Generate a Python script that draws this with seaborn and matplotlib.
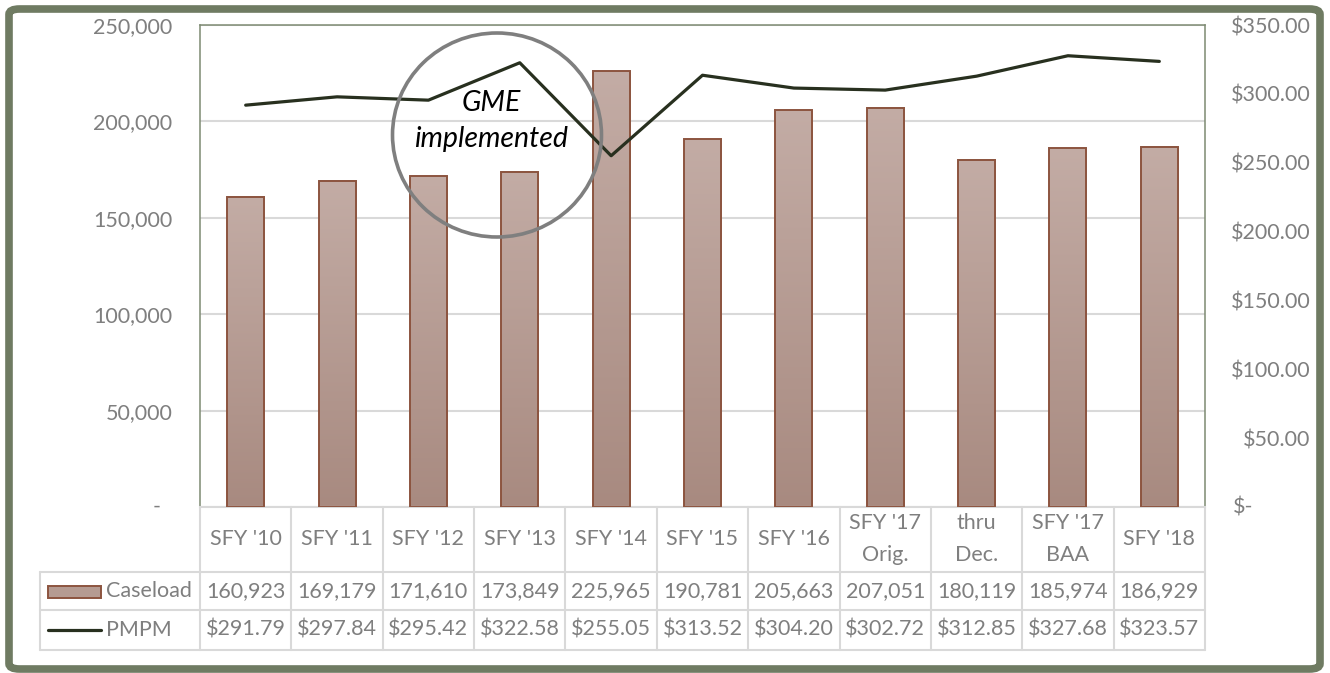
import numpy as np
import pandas as pd
import matplotlib
matplotlib.use("Agg")
import matplotlib.pyplot as plt
import seaborn as sns
from matplotlib.patches import Ellipse, FancyBboxPatch, Rectangle
from matplotlib.lines import Line2D
from matplotlib.colors import LinearSegmentedColormap
import matplotlib.transforms as mtransforms

# ---- data ----
periods = ["SFY '10", "SFY '11", "SFY '12", "SFY '13", "SFY '14", "SFY '15",
           "SFY '16", "SFY '17\nOrig.", "thru\nDec.", "SFY '17\nBAA", "SFY '18"]
caseload = [160923, 169179, 171610, 173849, 225965, 190781,
            205663, 207051, 180119, 185974, 186929]
pmpm = [291.79, 297.84, 295.42, 322.58, 255.05, 313.52,
        304.20, 302.72, 312.85, 327.68, 323.57]
caseload_ticks = [0, 50000, 100000, 150000, 200000, 250000]
pmpm_ticks = [0, 50, 100, 150, 200, 250, 300, 350]

# ---- style ----
sns.set_theme(style="white")
plt.rcParams["font.family"] = ["Lato", "DejaVu Sans"]
FS = 15.5
GREY_TXT = "#7f7f7f"
GRID = "#d9d9d9"
FRAME = "#6f7b62"
BAR_EDGE = "#8c543f"
BAR_TOP = "#c3aca5"
BAR_BOT = "#a88a80"
LINE = "#28301f"

W, H = 1330, 673
fig = plt.figure(figsize=(W / 100, H / 100), dpi=100)
fig.patch.set_facecolor("white")


def fx(px):
    return px / W


def fy(py):
    return 1 - py / H


L, R, T, B = 200, 1205, 25, 507
ax = fig.add_axes([fx(L), fy(B), fx(R) - fx(L), fy(T) - fy(B)])

df = pd.DataFrame({"pos": np.arange(len(periods)), "caseload": caseload, "pmpm": pmpm})

sns.barplot(data=df, x="pos", y="caseload", ax=ax, width=0.405,
            color=BAR_TOP, edgecolor=BAR_EDGE, linewidth=1.4, saturation=1, zorder=3)

# vertical gradient fill inside each bar
grad_cmap = LinearSegmentedColormap.from_list("bar", [BAR_TOP, BAR_BOT])
grad = np.linspace(0, 1, 256)[:, None]
for p in ax.patches:
    x0, w, h = p.get_x(), p.get_width(), p.get_height()
    ax.imshow(grad, extent=[x0, x0 + w, 0, h], aspect="auto", cmap=grad_cmap,
              zorder=2.5, interpolation="bilinear")
    p.set_facecolor("none")

ax.set_xlim(-0.5, len(periods) - 0.5)
ax.set_ylim(0, 250000)
ax.set_xlabel("")
ax.set_ylabel("")
ax.set_xticks([])
ax.set_yticks(caseload_ticks, labels=[""] + [f"{v:,}" for v in caseload_ticks[1:]])
ax.tick_params(axis="y", length=0, pad=20, labelsize=FS, labelcolor=GREY_TXT)
ax.yaxis.grid(True, color=GRID, linewidth=1.5, zorder=0)
ax.set_axisbelow(True)
for side in ["left", "top", "right"]:
    ax.spines[side].set_color("#7d8a72")
    ax.spines[side].set_linewidth(1.1)
ax.spines["bottom"].set_color(GRID)
ax.spines["bottom"].set_linewidth(1.5)

ax.annotate("-", xy=(0, 0), xycoords=mtransforms.blended_transform_factory(ax.transAxes, ax.transData),
            xytext=(-43, 0), textcoords="offset pixels", ha="center", va="center",
            fontsize=FS, color=GREY_TXT, annotation_clip=False)

# ---- secondary axis: PMPM line ----
ax2 = ax.twinx()
sns.lineplot(data=df, x="pos", y="pmpm", ax=ax2, color=LINE, linewidth=2.3, zorder=4)
ax2.set_xlim(-0.5, len(periods) - 0.5)
ax2.set_ylim(0, 350)
ax2.set_xlabel("")
ax2.set_ylabel("")
ax2.set_yticks(pmpm_ticks, labels=[""] + [f"${v:,.2f}" for v in pmpm_ticks[1:]])
ax2.tick_params(axis="y", length=0, pad=76, labelsize=FS, labelcolor=GREY_TXT)
for lbl in ax2.get_yticklabels():
    lbl.set_horizontalalignment("right")
for s in ax2.spines.values():
    s.set_visible(False)
ax2.annotate("$-", xy=(1, 0), xycoords=mtransforms.blended_transform_factory(ax2.transAxes, ax2.transData),
             xytext=(28, 0), textcoords="offset pixels", ha="left", va="center",
             fontsize=FS, color=GREY_TXT, annotation_clip=False)

# ---- annotation circle ----
fig.patches.append(Ellipse((fx(497), fy(135)), fx(209), 204 / H, transform=fig.transFigure,
                           fill=False, edgecolor="#7f7f7f", linewidth=2.6, zorder=10))
fig.text(fx(491), fy(121), "GME\nimplemented", ha="center", va="center", fontsize=20.5,
         style="italic", color="black", linespacing=1.45, zorder=11)

# ---- data table below the plot ----
col_w = (R - L) / len(periods)
edges = [L + i * col_w for i in range(len(periods) + 1)]
rows_y = [B, 572, 610, 650]
LEG_X = 40

for xe in edges:
    fig.add_artist(Line2D([fx(xe)] * 2, [fy(B), fy(650)], color=GRID, linewidth=1.5,
                          transform=fig.transFigure))
fig.add_artist(Line2D([fx(LEG_X)] * 2, [fy(572), fy(650)], color=GRID, linewidth=1.5,
                      transform=fig.transFigure))
for yy in rows_y[1:]:
    fig.add_artist(Line2D([fx(LEG_X), fx(R)], [fy(yy)] * 2, color=GRID, linewidth=1.5,
                          transform=fig.transFigure))

for i, lab in enumerate(periods):
    cx = (edges[i] + edges[i + 1]) / 2
    fig.text(fx(cx), fy(539), lab, ha="center", va="center", fontsize=FS,
             color=GREY_TXT, linespacing=1.75)
    fig.text(fx(cx), fy(591), f"{caseload[i]:,}", ha="center", va="center",
             fontsize=FS, color=GREY_TXT)
    fig.text(fx(cx), fy(630), f"${pmpm[i]:,.2f}", ha="center", va="center",
             fontsize=FS, color=GREY_TXT)

# legend keys inside the table
fig.patches.append(Rectangle((fx(48), fy(598)), fx(101) - fx(48), 12 / H,
                             transform=fig.transFigure, facecolor="#b59b92",
                             edgecolor=BAR_EDGE, linewidth=1.4))
fig.add_artist(Line2D([fx(48), fx(101)], [fy(630)] * 2, color=LINE, linewidth=2.3,
                      transform=fig.transFigure))
fig.text(fx(106), fy(591), "Caseload", ha="left", va="center", fontsize=FS, color=GREY_TXT)
fig.text(fx(106), fy(630), "PMPM", ha="left", va="center", fontsize=FS, color=GREY_TXT)

# ---- outer frame ----
fig.patches.append(FancyBboxPatch((fx(9), fy(669)), fx(1320) - fx(9), fy(9) - fy(669),
                                  boxstyle="round,pad=0,rounding_size=0.008",
                                  transform=fig.transFigure, fill=False,
                                  edgecolor=FRAME, linewidth=5.5))

fig.savefig("out.png", dpi=100)
